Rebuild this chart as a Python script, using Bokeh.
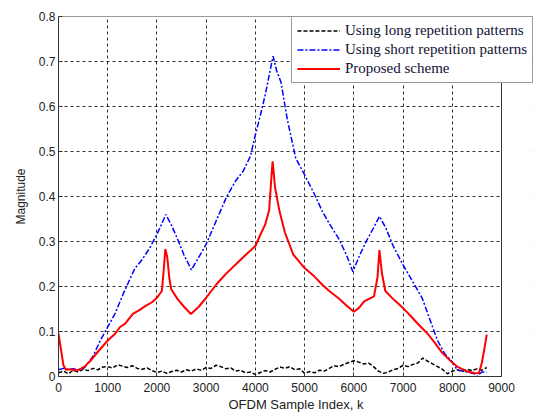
from bokeh.plotting import figure
from bokeh.models import Range1d, FixedTicker, Legend, LegendItem, BoxAnnotation
from bokeh.embed import file_html
from bokeh.resources import INLINE

# ---- data ----
x_long = list(range(0, 8800, 100))
y_long = [
    0.008, 0.012, 0.006, 0.014, 0.010, 0.016, 0.013, 0.018, 0.015, 0.021,
    0.022, 0.019, 0.026, 0.023, 0.020, 0.024, 0.018, 0.016, 0.019, 0.013,
    0.009, 0.012, 0.007, 0.011, 0.014, 0.010, 0.015, 0.012, 0.017, 0.014,
    0.020, 0.018, 0.025, 0.022, 0.017, 0.019, 0.012, 0.014, 0.008, 0.010,
    0.004, 0.009, 0.013, 0.010, 0.016, 0.021, 0.018, 0.022, 0.015, 0.017,
    0.007, 0.011, 0.008, 0.014, 0.012, 0.018, 0.024, 0.022, 0.027, 0.031,
    0.035, 0.032, 0.028, 0.030, 0.022, 0.012, 0.007, 0.010, 0.015, 0.018,
    0.025, 0.022, 0.027, 0.030, 0.041, 0.034, 0.028, 0.022, 0.016, 0.006,
    0.012, 0.015, 0.011, 0.016, 0.013, 0.017, 0.014, 0.020,
]

x_short = [0, 100, 200, 300, 400, 500, 530, 700, 850, 1000, 1150, 1300, 1445, 1550,
           1700, 1850, 2000, 2100, 2180, 2300, 2420, 2550, 2700, 2850, 3000, 3200,
           3410, 3600, 3750, 3900, 4000, 4100, 4200, 4300, 4360, 4430, 4520, 4650,
           4820, 5000, 5200, 5360, 5500, 5690, 5850, 5980, 6100, 6250, 6400, 6520,
           6650, 6800, 7000, 7200, 7390, 7550, 7700, 7850, 7980, 8100, 8300, 8450,
           8500, 8550, 8600, 8700]
y_short = [0.015, 0.018, 0.016, 0.017, 0.015, 0.017, 0.02, 0.045, 0.08, 0.11, 0.14,
           0.18, 0.215, 0.24, 0.26, 0.285, 0.316, 0.34, 0.36, 0.335, 0.305, 0.27,
           0.237, 0.265, 0.294, 0.345, 0.398, 0.435, 0.456, 0.49, 0.537, 0.58, 0.626,
           0.68, 0.712, 0.68, 0.654, 0.57, 0.485, 0.448, 0.405, 0.367, 0.34, 0.307,
           0.27, 0.233, 0.265, 0.3, 0.33, 0.356, 0.33, 0.29, 0.248, 0.21, 0.174,
           0.125, 0.08, 0.05, 0.035, 0.015, 0.01, 0.006, 0.0, 0.005, 0.01, 0.01]

x_prop = [0, 50, 100, 150, 250, 350, 450, 530, 650, 800, 1000, 1150, 1250, 1350, 1510,
          1650, 1770, 1900, 2000, 2100, 2140, 2170, 2210, 2250, 2290, 2420, 2550, 2690,
          2850, 3000, 3210, 3400, 3610, 3800, 4000, 4100, 4200, 4280, 4330, 4350, 4400,
          4490, 4600, 4770, 5000, 5200, 5360, 5500, 5690, 5850, 6000, 6100, 6210, 6410,
          6480, 6520, 6570, 6640, 6800, 7000, 7150, 7320, 7500, 7650, 7800, 7980, 8100,
          8310, 8450, 8540, 8600, 8650, 8700]
y_prop = [0.095, 0.06, 0.025, 0.015, 0.016, 0.013, 0.017, 0.022, 0.035, 0.055, 0.08,
          0.095, 0.11, 0.117, 0.139, 0.148, 0.157, 0.165, 0.175, 0.19, 0.24, 0.283,
          0.265, 0.22, 0.194, 0.172, 0.155, 0.139, 0.155, 0.175, 0.205, 0.228, 0.25,
          0.27, 0.29, 0.315, 0.338, 0.37, 0.45, 0.478, 0.42, 0.367, 0.32, 0.271, 0.241,
          0.222, 0.204, 0.19, 0.174, 0.158, 0.144, 0.152, 0.167, 0.178, 0.22, 0.281,
          0.23, 0.19, 0.172, 0.152, 0.135, 0.115, 0.095, 0.074, 0.052, 0.033, 0.022,
          0.011, 0.008, 0.007, 0.03, 0.06, 0.093]

x_ticks = [0, 1000, 2000, 3000, 4000, 5000, 6000, 7000, 8000, 9000]
y_ticks = [0, 0.1, 0.2, 0.3, 0.4, 0.5, 0.6, 0.7, 0.8]
labels = ["Using long repetition patterns", "Using short repetition patterns", "Proposed scheme"]

# ---- layout ----
AXES_W = 443      # width of the axes box in px
EXTRA_W = 32      # room to the right of the axes box for the legend overhang
FRAME_W = AXES_W + EXTRA_W
x_lo, x_hi = x_ticks[0], x_ticks[-1]
y_lo, y_hi = y_ticks[0], y_ticks[-1]
x_view_end = x_hi * FRAME_W / AXES_W

p = figure(width=540, height=412, frame_width=FRAME_W, frame_height=360,
           output_backend="svg", toolbar_location=None,
           x_range=Range1d(x_lo, x_view_end), y_range=Range1d(y_lo, y_hi),
           min_border_left=58, min_border_right=7, min_border_top=16, min_border_bottom=36)
p.background_fill_color = "white"
p.border_fill_color = "white"
p.outline_line_color = None

for ax in (p.xaxis[0], p.yaxis[0]):
    ax.major_tick_in = 4
    ax.major_tick_out = 0
    ax.minor_tick_in = 0
    ax.minor_tick_out = 0
    ax.axis_line_color = "#333333"
    ax.major_tick_line_color = "#333333"
    ax.major_label_text_font = "Liberation Sans"
    ax.major_label_text_font_size = "12px"
    ax.major_label_text_color = "#222222"
    ax.axis_label_text_font = "Liberation Sans"
    ax.axis_label_text_font_style = "normal"
    ax.axis_label_text_color = "#222222"

p.xaxis[0].ticker = FixedTicker(ticks=x_ticks)
p.xaxis[0].bounds = (x_lo, x_hi)
p.yaxis[0].ticker = FixedTicker(ticks=y_ticks)
p.xaxis[0].axis_label = "OFDM Sample Index, k"
p.xaxis[0].axis_label_text_font_size = "13px"
p.xaxis[0].axis_label_standoff = 2
p.xaxis[0].major_label_standoff = 6
p.yaxis[0].axis_label = "Magnitude"
p.yaxis[0].axis_label_text_font_size = "12px"
p.yaxis[0].axis_label_standoff = 8
p.yaxis[0].major_label_standoff = 3

for g in (p.xgrid[0], p.ygrid[0]):
    g.grid_line_color = "black"
    g.grid_line_dash = "3 3"
    g.grid_line_width = 0.9
    g.grid_line_alpha = 0.9

r1 = p.line(x_long, y_long, line_color="black", line_width=1.5, line_dash="4 2")
r2 = p.line(x_short, y_short, line_color="blue", line_width=1.5, line_dash="6 2 2 2")
r3 = p.line(x_prop, y_prop, line_color="red", line_width=2)

# blank out the area right of the axes box, then draw the axes box
p.add_layout(BoxAnnotation(left=x_hi, fill_color="white", fill_alpha=1.0,
                           line_color=None, level="annotation"))
p.add_layout(BoxAnnotation(left=x_lo, right=x_hi, bottom=y_lo, top=y_hi,
                           fill_alpha=0.0, line_color="#333333", line_alpha=1.0,
                           line_width=1, level="annotation"))

legend = Legend(items=[LegendItem(label=labels[0], renderers=[r1]),
                       LegendItem(label=labels[1], renderers=[r2]),
                       LegendItem(label=labels[2], renderers=[r3])],
                location="top_right")
legend.label_text_font = "Liberation Serif"
legend.label_text_font_size = "15px"
legend.label_text_color = "#111133"
legend.glyph_width = 43
legend.glyph_height = 17
legend.label_height = 17
legend.spacing = 2
legend.padding = 5
legend.margin = 0
legend.label_standoff = 5
legend.border_line_color = "#333333"
legend.border_line_width = 1
legend.background_fill_color = "white"
legend.background_fill_alpha = 1
p.add_layout(legend, "center")

open("out.html", "w").write(file_html(p, INLINE))
